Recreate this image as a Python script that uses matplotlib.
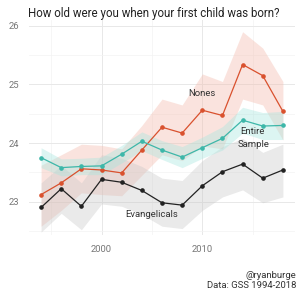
import numpy as np
import matplotlib
matplotlib.use('Agg')
import matplotlib.pyplot as plt
from matplotlib.ticker import MultipleLocator

years = [1994, 1996, 1998, 2000, 2002, 2004, 2006, 2008, 2010, 2012, 2014, 2016, 2018]

entire = [23.75, 23.58, 23.60, 23.61, 23.81, 24.03, 23.88, 23.76, 23.92, 24.08, 24.39, 24.29, 24.30]
entire_lo = [23.58, 23.44, 23.46, 23.46, 23.66, 23.87, 23.72, 23.58, 23.74, 23.88, 24.17, 24.06, 24.06]
entire_hi = [23.92, 23.73, 23.74, 23.76, 23.96, 24.19, 24.04, 23.94, 24.10, 24.28, 24.61, 24.52, 24.54]

nones = [23.12, 23.32, 23.56, 23.54, 23.49, 23.88, 24.27, 24.17, 24.56, 24.47, 25.34, 25.15, 24.54]
nones_lo = [22.58, 22.85, 23.15, 23.12, 23.10, 23.45, 23.80, 23.70, 23.95, 23.90, 24.75, 24.65, 24.05]
nones_hi = [23.62, 23.80, 23.98, 23.96, 23.90, 24.30, 24.75, 24.65, 25.18, 25.05, 25.90, 25.62, 25.05]

evang = [22.90, 23.22, 22.92, 23.38, 23.33, 23.19, 22.98, 22.94, 23.27, 23.51, 23.64, 23.40, 23.54]
evang_lo = [22.48, 22.80, 22.52, 22.96, 22.92, 22.78, 22.58, 22.54, 22.85, 23.08, 23.20, 22.98, 23.08]
evang_hi = [23.32, 23.62, 23.32, 23.80, 23.74, 23.60, 23.40, 23.36, 23.70, 23.94, 24.08, 23.84, 23.98]

plt.rcParams['font.family'] = ['Roboto', 'DejaVu Sans']

fig = plt.figure(figsize=(3.0, 2.94), dpi=100)
ax = fig.add_axes([29/300, 1-235/294, 266/300, 215/294])

orange = '#D9512E'
teal = '#3DB7A9'
black = '#222222'

ax.fill_between(years, nones_lo, nones_hi, color='#F4BBAD', alpha=0.4, lw=0)
ax.fill_between(years, evang_lo, evang_hi, color='#C8C8C8', alpha=0.38, lw=0)
ax.fill_between(years, entire_lo, entire_hi, color='#A8E6DF', alpha=0.4, lw=0)

ax.plot(years, nones, color=orange, lw=0.9, marker='o', ms=2.3)
ax.plot(years, entire, color=teal, lw=0.9, marker='o', ms=2.3)
ax.plot(years, evang, color=black, lw=0.9, marker='o', ms=2.3)

ax.text(2010.0, 24.85, 'Nones', fontsize=6.8, color='#333333', ha='center', va='center')
ax.text(2015.0, 24.2, 'Entire', fontsize=6.8, color='#333333', ha='center', va='center')
ax.text(2015.1, 23.98, 'Sample', fontsize=6.8, color='#333333', ha='center', va='center')
ax.text(2005.0, 22.78, 'Evangelicals', fontsize=6.8, color='#333333', ha='center', va='center')

ax.set_xlim(1992.8, 2019.2)
ax.set_ylim(22.43, 26.1)
ax.xaxis.set_major_locator(MultipleLocator(10))
ax.xaxis.set_minor_locator(MultipleLocator(5))
ax.yaxis.set_major_locator(MultipleLocator(1))
ax.yaxis.set_minor_locator(MultipleLocator(0.5))
ax.grid(True, which='major', color='#E8E8E8', lw=0.7)
ax.grid(True, which='minor', color='#F3F3F3', lw=0.5)
ax.set_axisbelow(True)
for s in ax.spines.values():
    s.set_visible(False)
ax.tick_params(which='both', length=0, labelsize=6.8, labelcolor='#777777', pad=7)

fig.text(154/300, 1-13/294, 'How old were you when your first child was born?', fontsize=8.3,
         ha='center', va='center', color='#222222')
fig.text(296/300, 1-276/294, '@ryanburge', fontsize=6.8, ha='right', va='center', color='#333333')
fig.text(296/300, 1-285/294, 'Data: GSS 1994-2018', fontsize=6.8, ha='right', va='center', color='#333333')

fig.savefig('out.png', dpi=100)
